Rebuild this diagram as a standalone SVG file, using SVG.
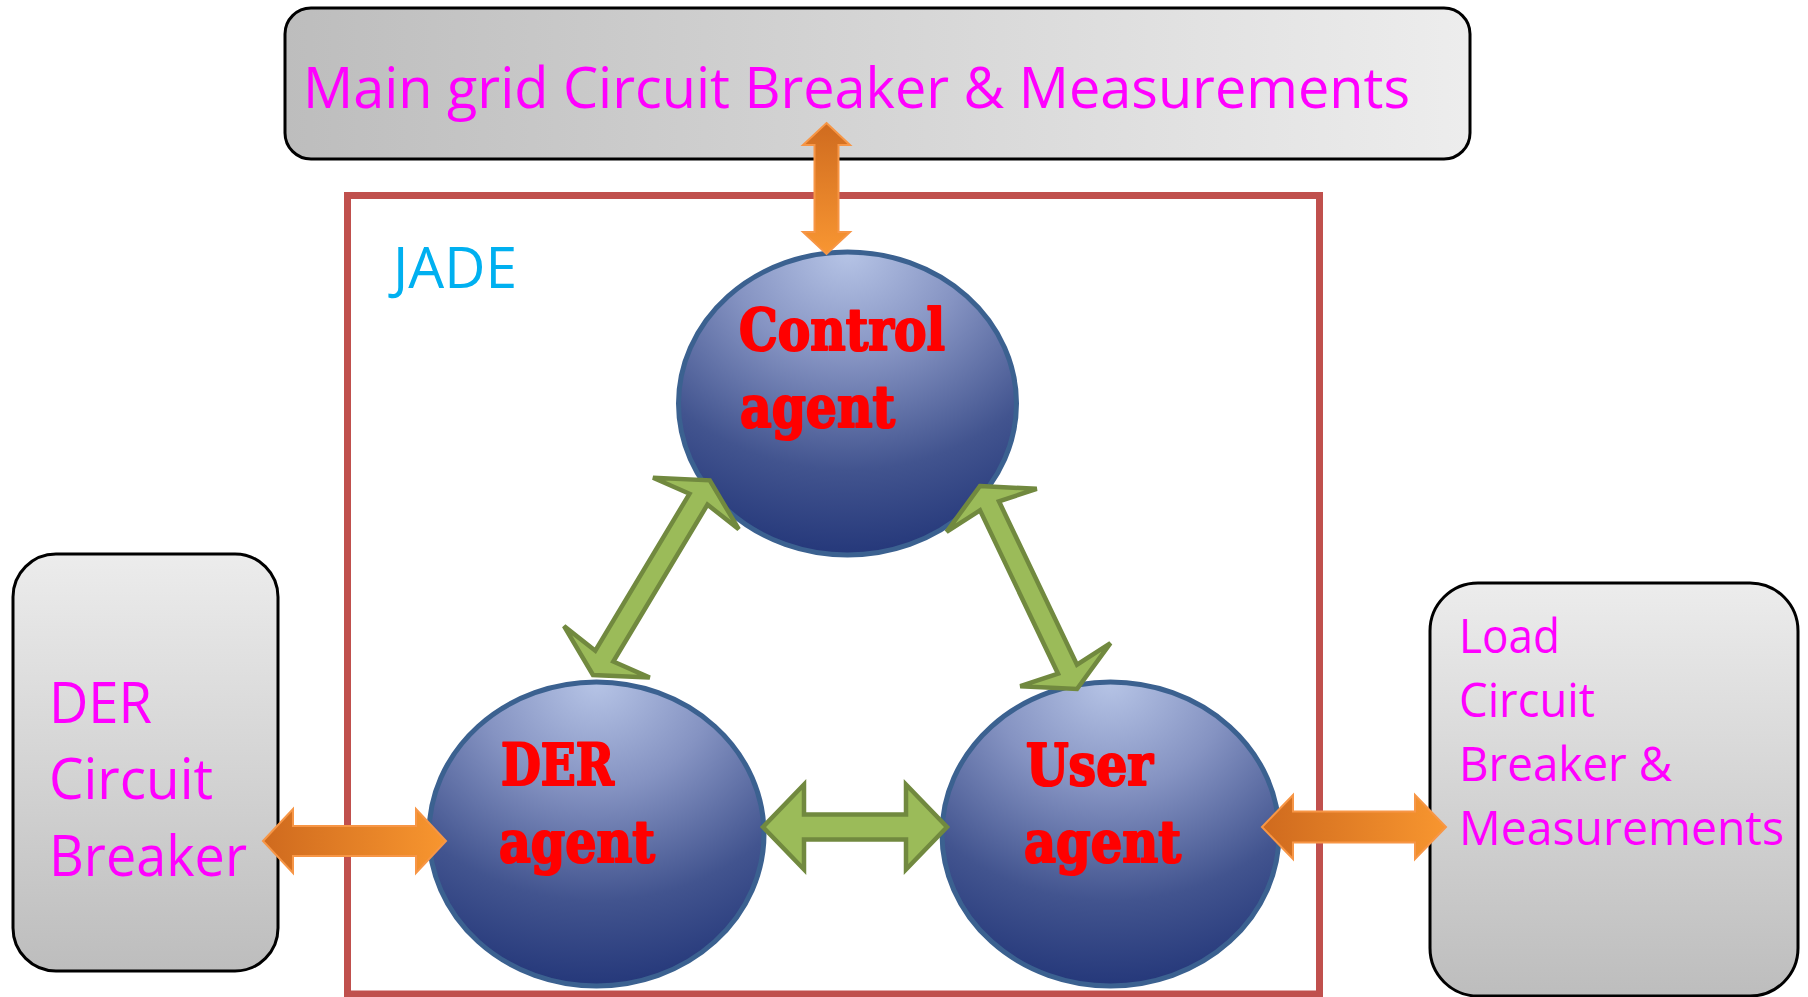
<svg xmlns="http://www.w3.org/2000/svg" width="1808" height="997" viewBox="0 0 1808 997">
<defs>
<linearGradient id="gTop" x1="0" y1="0" x2="1" y2="0">
<stop offset="0" stop-color="#bdbdbd"/><stop offset="1" stop-color="#ededed"/>
</linearGradient>
<linearGradient id="gSide" x1="0" y1="0" x2="0" y2="1">
<stop offset="0" stop-color="#ececec"/><stop offset="1" stop-color="#bdbdbd"/>
</linearGradient>
<radialGradient id="gAgent" cx="0.5" cy="0" r="1" fx="0.5" fy="0">
<stop offset="0" stop-color="#b6c4e6"/>
<stop offset="0.35" stop-color="#8593c2"/>
<stop offset="0.72" stop-color="#42548f"/>
<stop offset="1" stop-color="#25387a"/>
</radialGradient>
<linearGradient id="gOrH" x1="0" y1="0" x2="1" y2="0">
<stop offset="0" stop-color="#cf6a1e"/><stop offset="1" stop-color="#f8962f"/>
</linearGradient>
<linearGradient id="gOrV" x1="0" y1="0" x2="0" y2="1">
<stop offset="0" stop-color="#cf6b1f"/><stop offset="1" stop-color="#f89632"/>
</linearGradient>
</defs>
<style>
.box{stroke:#000;stroke-width:3}
.lbl{font-family:"Open Sans","Liberation Sans",sans-serif;fill:#ff00ff}
.agent{fill:url(#gAgent);stroke:#3b6190;stroke-width:5}
.alb{font-family:"DejaVu Serif","Liberation Serif",serif;font-weight:bold;font-size:58px;fill:#ff0000;stroke:#ff0000;stroke-width:2.2;stroke-linejoin:round}
.green{fill:#9bbb59;stroke:#71893f;stroke-width:4.5;stroke-linejoin:miter}
.orange{stroke:#f79646;stroke-width:2}
</style>
<g id="main-grid">
<rect class="box" x="285" y="8" width="1185" height="151" rx="26" fill="url(#gTop)"/>
<text class="lbl" x="303" y="108" font-size="56" textLength="1107" lengthAdjust="spacingAndGlyphs">Main grid Circuit Breaker &amp; Measurements</text>
</g>
<g id="der-cb">
<rect class="box" x="13" y="554" width="265" height="417" rx="43" fill="url(#gSide)"/>
<text class="lbl" font-size="56" x="49" y="723" textLength="103" lengthAdjust="spacingAndGlyphs">DER</text>
<text class="lbl" font-size="56" x="49" y="799" textLength="164" lengthAdjust="spacingAndGlyphs">Circuit</text>
<text class="lbl" font-size="56" x="49" y="876" textLength="198" lengthAdjust="spacingAndGlyphs">Breaker</text>
</g>
<g id="load-cb">
<rect class="box" x="1430" y="583" width="368" height="413" rx="48" fill="url(#gSide)"/>
<text class="lbl" font-size="48" x="1459" y="653" textLength="101" lengthAdjust="spacingAndGlyphs">Load</text>
<text class="lbl" font-size="48" x="1459" y="717" textLength="136" lengthAdjust="spacingAndGlyphs">Circuit</text>
<text class="lbl" font-size="48" x="1459" y="781" textLength="213" lengthAdjust="spacingAndGlyphs">Breaker &amp;</text>
<text class="lbl" font-size="48" x="1459" y="845" textLength="325" lengthAdjust="spacingAndGlyphs">Measurements</text>
</g>
<g id="jade">
<rect x="347.5" y="195.5" width="972" height="798.5" fill="none" stroke="#c0504d" stroke-width="7"/>
<text x="393" y="288" font-family="Open Sans, Liberation Sans, sans-serif" font-size="56" fill="#00b0f0" textLength="124" lengthAdjust="spacingAndGlyphs">JADE</text>
</g>
<g id="control-agent">
<ellipse class="agent" cx="847.5" cy="403.5" rx="169" ry="151.5"/>
<text class="alb" x="739" y="350" textLength="206" lengthAdjust="spacingAndGlyphs">Control</text>
<text class="alb" x="740" y="427" textLength="155" lengthAdjust="spacingAndGlyphs">agent</text>
</g>
<g id="der-agent">
<ellipse class="agent" cx="596.5" cy="834" rx="167.5" ry="152"/>
<text class="alb" x="501" y="785" textLength="113" lengthAdjust="spacingAndGlyphs">DER</text>
<text class="alb" x="499" y="862" textLength="156" lengthAdjust="spacingAndGlyphs">agent</text>
</g>
<g id="user-agent">
<ellipse class="agent" cx="1110.5" cy="834" rx="168.5" ry="152"/>
<text class="alb" x="1026" y="785" textLength="127" lengthAdjust="spacingAndGlyphs">User</text>
<text class="alb" x="1024" y="862" textLength="157" lengthAdjust="spacingAndGlyphs">agent</text>
</g>
<g id="connectors">
<polygon class="orange" fill="url(#gOrV)" points="826.5,123 850,145 838.5,145 838.5,232 850,232 826.5,254 803,232 814.5,232 814.5,145 803,145"/>
<polygon class="orange" fill="url(#gOrH)" points="263,841 293,809 293,826 416,826 416,809 446,841 416,873 416,856 293,856 293,873"/>
<polygon class="orange" fill="url(#gOrH)" points="1262,827 1293,795 1293,811.5 1415,811.5 1415,795 1446,827 1415,859 1415,842.5 1293,842.5 1293,859"/>
<polygon class="green" points="763,827 804,784.5 804,814.5 906,814.5 906,784.5 947,827 906,869.5 906,839.5 804,839.5 804,869.5"/>
<polygon class="green" transform="translate(593,675) rotate(-59.04)" points="0,0 27,-50 22,-10.5 205,-10.5 200,-50 227,0 200,50 205,10.5 22,10.5 27,50"/>
<polygon class="green" transform="translate(980,486) rotate(64.46)" points="0,0 27,-50 22,-10.5 203,-10.5 198,-50 225,0 198,50 203,10.5 22,10.5 27,50"/>
</g>
</svg>
